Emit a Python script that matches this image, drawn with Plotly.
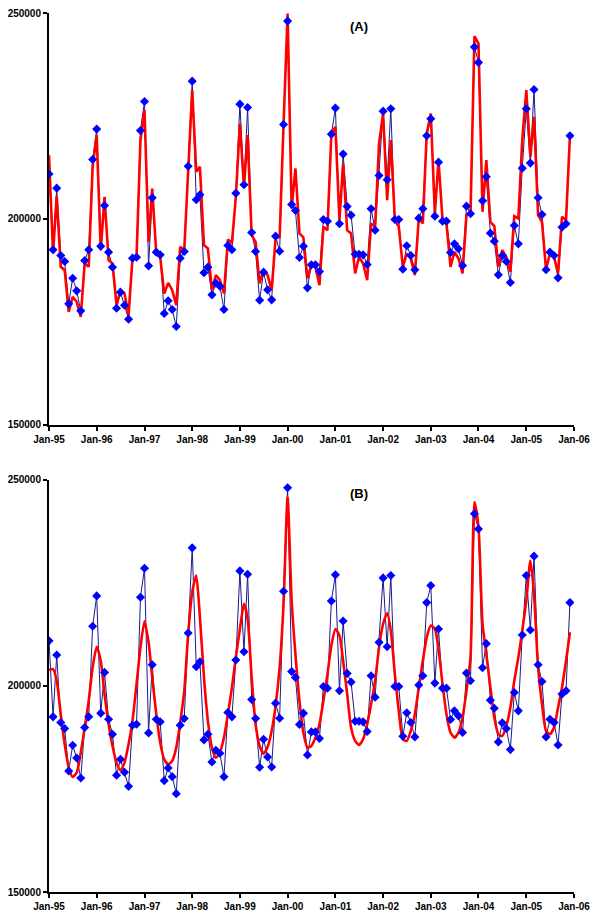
import pandas as pd
import plotly.graph_objects as go

# Monthly observations Jan-95 .. Dec-05 (same series in both panels)
months = pd.date_range("1995-01-01", periods=132, freq="MS")

observed = [
    210900, 192470, 207450, 191090, 189630, 179340, 185580, 182500, 177640, 189870, 192470, 214420,
    221790, 193360, 203240, 191900, 188260, 178290, 182180, 179020, 175620, 190440, 190680, 221470,
    228510, 188580, 205100, 191900, 191250, 177000, 180080, 177970, 173840, 190440, 192060, 212800,
    233450, 204620, 205830, 186880, 188260, 181530, 184370, 183640, 177970, 193520, 192470, 206240,
    227860, 208260, 227050, 196680, 192060, 180240, 187040, 182750, 180320, 195790, 192140, 222920,
    248030, 203480, 202030, 190600, 193360, 183230, 188820, 188820, 187200, 199840, 199430, 220570,
    226900, 198790, 215720, 203000, 200890, 191410, 191410, 191250, 188900, 202430, 197250, 210530,
    226160, 209480, 226730, 199840, 199840, 187770, 193440, 191090, 187610, 200160, 202430, 220170,
    224300, 200650, 213770, 199430, 199430, 191820, 193920, 192710, 188660, 203080, 201220, 241720,
    238000, 204370, 210210, 196520, 194570, 186390, 191010, 189630, 184530, 198380, 193920, 212310,
    226730, 213530, 231430, 205100, 201050, 187610, 191900, 191090, 185660, 197980, 198790, 220170,
]

# Model (A): close fit
fit_a = [
    215460, 191580, 205500, 188340, 187530, 177410, 181050, 179840, 176190, 189150, 188340, 212630,
    220320, 192390, 205340, 189960, 189150, 179030, 182670, 181860, 176600, 190360, 190770, 219110,
    226400, 194410, 207370, 191580, 190770, 181860, 184450, 182670, 179030, 193200, 192390, 212630,
    231250, 211420, 212630, 193600, 192790, 182670, 186320, 185100, 181860, 194980, 194170, 205340,
    223160, 207770, 220320, 196030, 194410, 184290, 187690, 186320, 182670, 195220, 195630, 222750,
    249880, 202510, 212230, 196440, 195470, 185510, 188750, 188340, 183890, 198060, 197250, 220730,
    222350, 199680, 213440, 197250, 196440, 186720, 190770, 189150, 185100, 198870, 198060, 218300,
    225590, 204530, 219110, 199680, 198060, 188340, 191580, 190360, 186320, 200080, 198870, 220730,
    225590, 201300, 214250, 199680, 198870, 188340, 191980, 190360, 186720, 200890, 201300, 244370,
    242590, 201700, 214250, 199270, 198220, 188340, 192390, 190770, 187130, 200650, 200080, 219110,
    231250, 215060, 224780, 200890, 199270, 187690, 191580, 190770, 186720, 200490, 199680, 220320,
]

# Model (B): smooth fit
fit_b = [
    203810, 204050, 201220, 193110, 185820, 180150, 177880, 178930, 183790, 189870, 196350, 204460,
    209480, 206080, 197970, 190680, 185410, 181360, 179500, 181360, 185820, 191490, 200410, 209320,
    215640, 210540, 202030, 193110, 186220, 182170, 180960, 181770, 185010, 191090, 198780, 212560,
    222690, 226740, 216610, 202030, 191490, 185010, 182580, 183790, 187440, 193110, 199590, 206890,
    213780, 219860, 216210, 202030, 190680, 185410, 183550, 185170, 189060, 195140, 204460, 219860,
    245790, 220670, 207700, 196350, 188660, 185010, 185410, 187440, 190680, 196350, 202840, 209720,
    213780, 212160, 206080, 197970, 189870, 186630, 185660, 187030, 190680, 195540, 201220, 209320,
    214990, 217590, 213370, 202840, 193920, 187030, 186630, 189060, 193110, 199590, 206080, 211750,
    214590, 213780, 208910, 200410, 193110, 188660, 187440, 188660, 192300, 198780, 206890, 244570,
    238490, 214990, 207700, 199590, 192300, 188250, 187840, 190270, 194730, 201220, 206890, 213370,
    220670, 230390, 222290, 204460, 195540, 189060, 188250, 189870, 194730, 199590, 206080, 212970,
]

panel_labels = ["(A)", "(B)"]

fig = go.Figure()

for i, (fit, shape) in enumerate([(fit_a, "linear"), (fit_b, "spline")]):
    xa = "x" if i == 0 else "x2"
    ya = "y" if i == 0 else "y2"
    fig.add_trace(go.Scatter(x=months, y=observed, mode="lines", xaxis=xa, yaxis=ya,
                             line=dict(color="#1a1a8c", width=1), showlegend=False))
    fig.add_trace(go.Scatter(x=months, y=fit, mode="lines", xaxis=xa, yaxis=ya,
                             line=dict(color="#ff0000", width=2.6, shape=shape, smoothing=0.6),
                             showlegend=False))
    fig.add_trace(go.Scatter(x=months, y=observed, mode="markers", xaxis=xa, yaxis=ya,
                             marker=dict(symbol="diamond", size=7, color="#0000ff"),
                             showlegend=False))

tick_font = dict(family="Liberation Sans, Arial, sans-serif", size=10, color="black", weight="bold")
label_font = dict(family="Liberation Sans, Arial, sans-serif", size=13, color="black", weight="bold")
xaxis_style = dict(
    range=["1995-01-01", "2006-01-01"], tickformat="%b-%y", dtick="M12", tick0="1995-01-01",
    showline=True, linewidth=2, linecolor="black", ticks="outside", ticklen=4, tickwidth=2,
    tickcolor="black", showgrid=False, zeroline=False, tickfont=tick_font, automargin=False,
    ticklabeloverflow="allow",
)
yaxis_style = dict(
    range=[150000, 250000], tickvals=[150000, 200000, 250000], showline=True, linewidth=2,
    linecolor="black", ticks="outside", ticklen=4, tickwidth=2, tickcolor="black",
    showgrid=False, zeroline=False, tickfont=tick_font, tickformat="d", automargin=False,
    ticklabeloverflow="allow",
)

# page body adds 8px around the figure, so the figure itself is 592x915
fig.update_layout(
    width=592, height=915,
    margin=dict(l=41, r=26, t=5, b=31),
    paper_bgcolor="white", plot_bgcolor="white",
    xaxis=dict(xaxis_style, anchor="y"),
    yaxis=dict(yaxis_style, domain=[0.5317, 1.0], anchor="x"),
    xaxis2=dict(xaxis_style, anchor="y2"),
    yaxis2=dict(yaxis_style, domain=[0.0, 0.4692], anchor="x2"),
    annotations=[
        dict(text=panel_labels[0], x=0.59, y=0.985, xref="paper", yref="paper", showarrow=False,
             xanchor="center", yanchor="middle", font=label_font),
        dict(text=panel_labels[1], x=0.59, y=0.453, xref="paper", yref="paper", showarrow=False,
             xanchor="center", yanchor="middle", font=label_font),
    ],
)

fig.write_html("out.html")
